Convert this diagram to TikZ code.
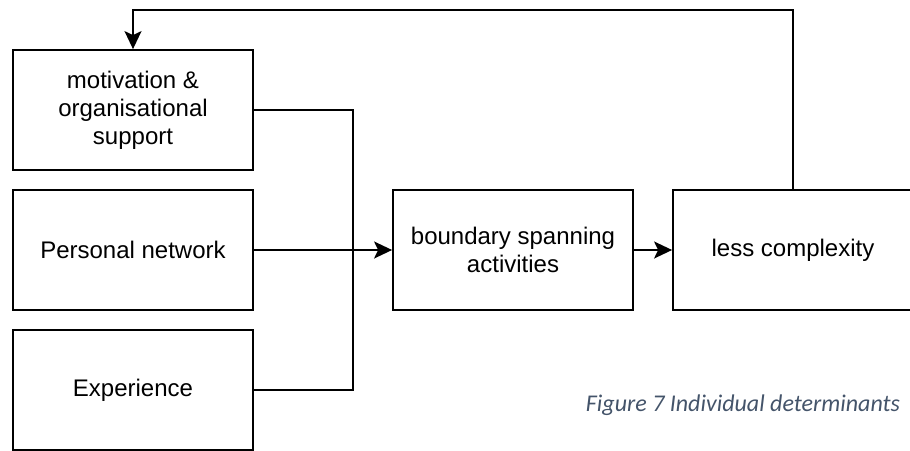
\documentclass[tikz,border=0pt]{standalone}
\usepackage{fontspec}
\setmainfont{Liberation Sans}
\newfontfamily\capfont{Carlito}
\usetikzlibrary{arrows.meta}
\definecolor{capblue}{HTML}{44546A}

\begin{document}
\begin{tikzpicture}[x=1pt,y=-1pt,line width=1.8pt,
  >={Stealth[length=18pt,width=17pt,inset=4pt]}]
\tikzstyle{every node}+=[inner sep=0pt]
\tikzstyle{box}=[draw,black,minimum width=240pt,minimum height=120pt,align=center,
  font=\fontsize{24}{28}\selectfont]
\useasboundingbox (0,0) rectangle (910,450);
\clip (0,0) rectangle (910,450);
\node [box] (mot) at (133,110) {motivation \&\\organisational\\support};
\node [box] (net) at (133,250) {Personal network};
\node [box] (exp) at (133,390) {Experience};
\node [box] (bsa) at (513,250) {boundary spanning\\activities};
\node [box] (less) at (793,250) {less complexity};
\coordinate (jn) at (353,250);
\coordinate (fb) at (133,10);
\draw (mot.east) -| (jn);
\draw (exp.east) -| (jn);
\draw [->] (net.east) -- (bsa.west);
\draw [->] (bsa.east) -- (less.west);
\draw [->] (less.north) |- (fb) -- (mot.north);
\node [text=capblue,font=\capfont\itshape\fontsize{24}{28}\selectfont] (cap) at (743,405) {Figure 7 Individual determinants};
\end{tikzpicture}
\end{document}
